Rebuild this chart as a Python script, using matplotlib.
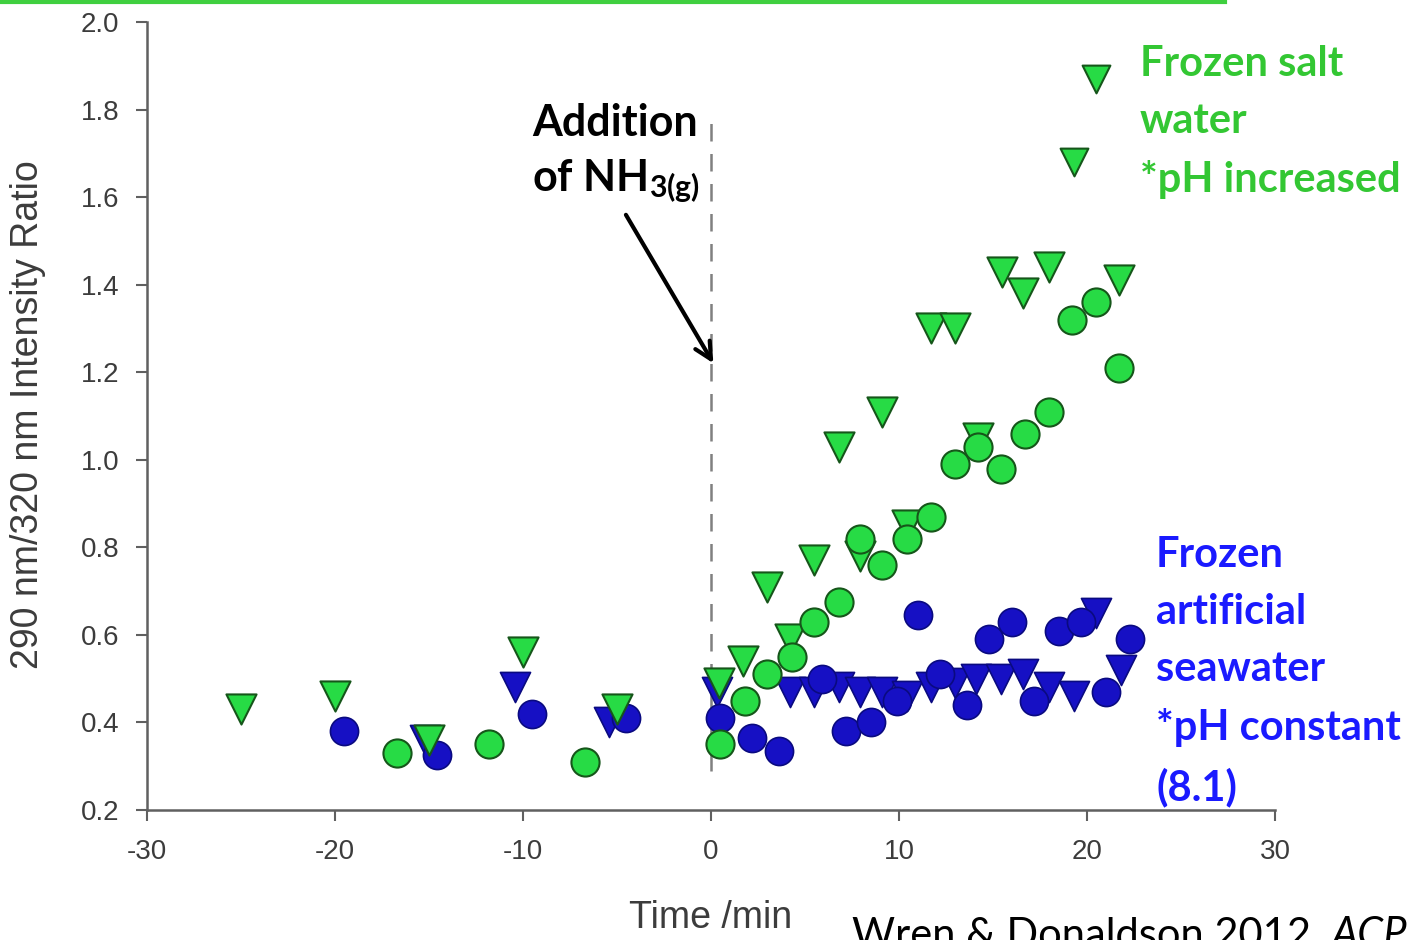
#!/usr/bin/env python3
"""Frozen salt water vs artificial seawater: 290/320 nm intensity ratio after NH3 addition."""

import matplotlib

matplotlib.use("Agg")
import matplotlib.pyplot as plt
from matplotlib.lines import Line2D

# frozen salt water (green)
salt_tri_t = [-25.0, -20.0, -15.0, -10.0, -5.0, 0.4, 1.7, 3.0, 4.2, 5.5, 6.8, 7.9,
              9.1, 10.4, 11.7, 13.0, 14.2, 15.5, 16.6, 18.0, 21.7]
salt_tri_r = [0.43, 0.46, 0.36, 0.56, 0.43, 0.49, 0.54, 0.71, 0.59, 0.77, 1.03, 0.78,
              1.11, 0.85, 1.30, 1.30, 1.05, 1.43, 1.38, 1.44, 1.41]
salt_circ_t = [-16.7, -11.8, -6.7, 0.5, 1.8, 3.0, 4.3, 5.5, 6.8, 7.9, 9.1, 10.4,
               11.7, 13.0, 14.2, 15.4, 16.7, 18.0, 19.2, 20.5, 21.7]
salt_circ_r = [0.33, 0.35, 0.31, 0.35, 0.45, 0.51, 0.55, 0.63, 0.675, 0.82, 0.76, 0.82,
               0.87, 0.99, 1.03, 0.98, 1.06, 1.11, 1.32, 1.36, 1.21]
# stray markers beside the green label
key_tri_t = [19.3, 20.5]
key_tri_r = [1.68, 1.87]

# frozen artificial seawater (blue)
sea_tri_t = [-15.2, -10.4, -5.4, 0.3, 4.2, 5.5, 6.8, 7.9, 9.1, 10.4, 11.7, 13.0,
             14.1, 15.4, 16.6, 18.0, 19.3, 20.5, 21.8]
sea_tri_r = [0.36, 0.48, 0.40, 0.47, 0.47, 0.47, 0.48, 0.47, 0.47, 0.46, 0.48, 0.49,
             0.50, 0.50, 0.51, 0.48, 0.46, 0.65, 0.52]
sea_circ_t = [-19.5, -14.6, -9.5, -4.5, 0.5, 2.2, 3.6, 5.9, 7.2, 8.5, 9.9, 11.0,
              12.2, 13.6, 14.8, 16.0, 17.2, 18.5, 19.7, 21.0, 22.3]
sea_circ_r = [0.38, 0.325, 0.42, 0.41, 0.41, 0.365, 0.335, 0.50, 0.38, 0.40, 0.45, 0.645,
              0.51, 0.44, 0.59, 0.63, 0.45, 0.61, 0.63, 0.47, 0.59]

x_ticks = [-30, -20, -10, 0, 10, 20, 30]
y_ticks = [0.2, 0.4, 0.6, 0.8, 1.0, 1.2, 1.4, 1.6, 1.8, 2.0]

W, H = 1427, 940
GREEN_FILL, GREEN_EDGE = "#27db45", "#16561a"
BLUE_FILL, BLUE_EDGE = "#1610c4", "#0a0a80"
GREEN_TXT, BLUE_TXT = "#33c733", "#1a1aff"
GREY = "#3c3c3c"

plt.rcParams["mathtext.fontset"] = "custom"
plt.rcParams["mathtext.bf"] = "Lato:bold"
plt.rcParams["mathtext.rm"] = "Lato:bold"


def fx(px):
    return px / W


def fy(py):
    return 1 - py / H


fig = plt.figure(figsize=(W / 100, H / 100), dpi=100)
ax = fig.add_axes([fx(147), fy(810), fx(1275) - fx(147), fy(22) - fy(810)])

tri_s, circ_s = 470, 410
ax.scatter(sea_tri_t, sea_tri_r, marker="v", s=tri_s, c=BLUE_FILL, edgecolors=BLUE_EDGE, linewidths=1.2, zorder=3)
ax.scatter(sea_circ_t, sea_circ_r, marker="o", s=circ_s, c=BLUE_FILL, edgecolors=BLUE_EDGE, linewidths=1.2, zorder=3)
ax.scatter(salt_tri_t, salt_tri_r, marker="v", s=tri_s, c=GREEN_FILL, edgecolors=GREEN_EDGE, linewidths=1.5, zorder=4)
ax.scatter(key_tri_t, key_tri_r, marker="v", s=tri_s * 0.85, c=GREEN_FILL, edgecolors=GREEN_EDGE, linewidths=1.5, zorder=4)
ax.scatter(salt_circ_t, salt_circ_r, marker="o", s=circ_s, c=GREEN_FILL, edgecolors=GREEN_EDGE, linewidths=1.5, zorder=4)

# NH3 addition marker
ax.plot([0, 0], [0.29, 1.79], ls=(0, (7, 5)), color="#808080", lw=1.8, zorder=2)
ax.annotate("", xy=(0.2, 1.215), xytext=(-4.6, 1.565),
            arrowprops=dict(arrowstyle="->", color="black", lw=3, mutation_scale=30))
ax.text(-9.5, 1.815, "Addition\nof NH$_{\\mathbf{3(g)}}$", fontsize=31, fontweight="bold",
        family="Lato", ha="left", va="top", linespacing=1.45, color="black")

ax.set_xlim(-30, 30)
ax.set_ylim(0.2, 2.0)
ax.set_xticks(x_ticks)
ax.set_yticks(y_ticks)
ax.set_xticklabels([str(t) for t in x_ticks])
ax.set_yticklabels([f"{t:.1f}" for t in y_ticks])
for s in ("top", "right"):
    ax.spines[s].set_visible(False)
for s in ("left", "bottom"):
    ax.spines[s].set_color("#606060")
    ax.spines[s].set_linewidth(1.8)
ax.tick_params(axis="both", direction="out", length=8, width=1.5, color="#606060",
               labelsize=20, labelcolor=GREY)
ax.tick_params(axis="x", pad=13)
ax.tick_params(axis="y", pad=12)
for lab in ax.get_xticklabels() + ax.get_yticklabels():
    lab.set_family("Liberation Sans")

fig.text(fx(28), fy(415), "290 nm/320 nm Intensity Ratio", rotation=90, ha="center", va="center",
         fontsize=27, color=GREY, family="Liberation Sans")
fig.text(fx(711), fy(918), "Time /min", ha="center", va="center", fontsize=27, color=GREY,
         family="Liberation Sans")

fig.text(fx(1140), fy(45), "Frozen salt\nwater\n*pH increased", ha="left", va="top", fontsize=30,
         fontweight="bold", family="Lato", color=GREEN_TXT, linespacing=1.62)
fig.text(fx(1156), fy(536), "Frozen\nartificial\nseawater\n*pH constant\n(8.1)", ha="left", va="top",
         fontsize=30, fontweight="bold", family="Lato", color=BLUE_TXT, linespacing=1.62)

# citation runs off the bottom edge, as in the source slide
cite = fig.text(fx(852), fy(916), "Wren & Donaldson 2012, ", ha="left", va="top", fontsize=30,
                family="Lato", color="black")
ax.annotate("ACP", xy=(1, 0), xycoords=cite, ha="left", va="bottom", fontsize=30,
            family="Lato", style="italic", color="black", annotation_clip=False)

fig.add_artist(Line2D([0, fx(1225)], [fy(1.5), fy(1.5)], color="#3fcf3f", lw=3))

fig.savefig("out.png", dpi=100)
